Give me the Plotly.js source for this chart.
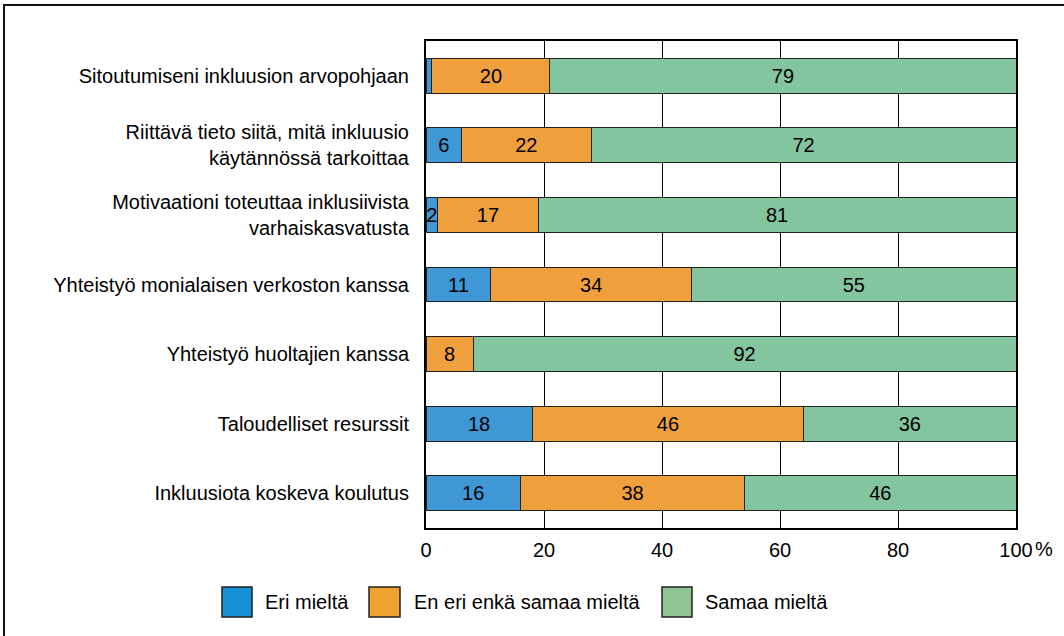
<!DOCTYPE html>
<html>
<head>
<meta charset="utf-8">
<script src="https://cdn.plot.ly/plotly-3.0.1.min.js"></script>
<style>
  html, body { margin: 0; padding: 0; background: #fff; overflow: hidden; }
  #chart { width: 1064px; height: 636px; }
  #frame { position: absolute; left: 3px; top: 4px; width: 1200px; height: 800px;
           border: 2px solid #111; pointer-events: none; box-sizing: border-box; }
</style>
</head>
<body>
<div id="chart"></div>
<div id="frame"></div>
<script>
// ---- data ----
var categories = [
  "Sitoutumiseni inkluusion arvopohjaan",
  "Riittävä tieto siitä, mitä inkluusio<br>käytännössä tarkoittaa",
  "Motivaationi toteuttaa inklusiivista<br>varhaiskasvatusta",
  "Yhteistyö monialaisen verkoston kanssa",
  "Yhteistyö huoltajien kanssa",
  "Taloudelliset resurssit",
  "Inkluusiota koskeva koulutus"
];
var eriMielta     = [1, 6, 2, 11, 0, 18, 16];
var eiEriEikaSama = [20, 22, 17, 34, 8, 46, 38];
var samaaMielta   = [79, 72, 81, 55, 92, 36, 46];
var seriesNames = ["Eri mieltä", "En eri enkä samaa mieltä", "Samaa mieltä"];
var tickVals = [0, 20, 40, 60, 80, 100];
var tickLabels = ["0", "20", "40", "60", "80", "100"];

// ---- styles ----
var FONT = '"Liberation Sans", Arial, sans-serif';
var FS = 20;
var barColors = ["#3f97d5", "#efa03c", "#82c59f"];
var legendColors = ["#1591d6", "#eea22f", "#90c593"];
var seriesValues = [eriMielta, eiEriEikaSama, samaaMielta];

var traces = seriesValues.map(function (vals, i) {
  return {
    type: "bar",
    orientation: "h",
    name: seriesNames[i],
    y: categories,
    x: vals,
    text: vals.map(function (v) { return v >= 2 ? String(v) : ""; }),
    textposition: "inside",
    insidetextanchor: "middle",
    constraintext: "none",
    textfont: { family: FONT, size: FS, color: "#000" },
    marker: { color: barColors[i], line: { color: "#222", width: 1 } },
    hoverinfo: "x+name",
    showlegend: false
  };
});

// plot area geometry (px) used to place custom legend
var L = 426, R = 1016, T = 41, B = 528;
var W = R - L, H = B - T;
function px2x(p) { return (p - L) / W; }
function px2y(p) { return (B - p) / H; }

var legendBoxes = [[222, 252, 263], [369, 400, 412], [662, 692, 703]];
var shapes = [], annotations = [];
legendBoxes.forEach(function (b, i) {
  shapes.push({
    type: "rect", xref: "paper", yref: "paper",
    x0: px2x(b[0]), x1: px2x(b[1]), y0: px2y(617), y1: px2y(587),
    fillcolor: legendColors[i], line: { color: "#222", width: 1.5 }
  });
  annotations.push({
    xref: "paper", yref: "paper", x: px2x(b[2]), y: px2y(602),
    xanchor: "left", yanchor: "middle", showarrow: false,
    text: seriesNames[i], font: { family: FONT, size: FS, color: "#000" }
  });
});
annotations.push({
  xref: "paper", yref: "paper", x: px2x(1033), y: px2y(549),
  xanchor: "left", yanchor: "middle", showarrow: false,
  text: "%", font: { family: FONT, size: FS, color: "#000" }
});

var layout = {
  width: 1064, height: 636,
  margin: { l: L, r: 1064 - R, t: T, b: 636 - B, pad: 0 },
  barmode: "stack",
  bargap: 0.5,
  paper_bgcolor: "#fff",
  plot_bgcolor: "#fff",
  font: { family: FONT, size: FS, color: "#000" },
  showlegend: false,
  xaxis: {
    range: [0, 100],
    tickvals: tickVals,
    ticktext: tickLabels,
    showgrid: true, gridcolor: "#000", gridwidth: 1,
    zeroline: false,
    showline: true, linecolor: "#000", linewidth: 2, mirror: true,
    ticks: "", ticklabelstandoff: 3,
    tickfont: { family: FONT, size: FS, color: "#000" },
    fixedrange: true
  },
  yaxis: {
    autorange: "reversed",
    showgrid: false, zeroline: false,
    showline: true, linecolor: "#000", linewidth: 2, mirror: true,
    ticks: "", ticklabelstandoff: 11,
    tickfont: { family: FONT, size: FS, color: "#000" },
    fixedrange: true
  },
  shapes: shapes,
  annotations: annotations
};

Plotly.newPlot("chart", traces, layout, { displayModeBar: false, staticPlot: true });
</script>
</body>
</html>
